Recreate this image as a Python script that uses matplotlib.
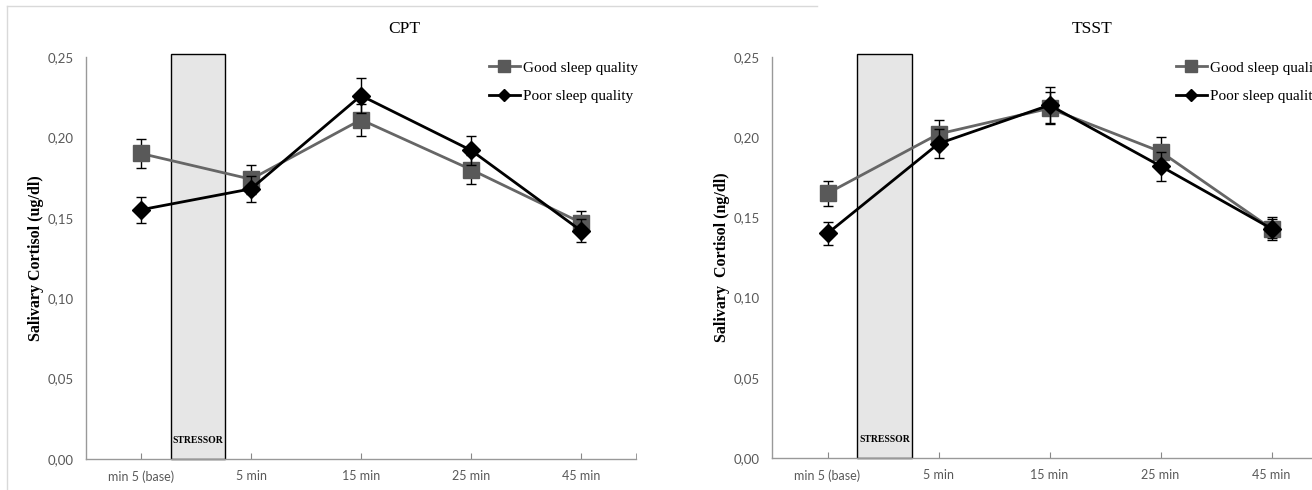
import matplotlib.pyplot as plt
from matplotlib.lines import Line2D
from matplotlib.patches import Rectangle

# time points and values
times = ['min 5 (base)', '5 min', '15 min', '25 min', '45 min']

cpt_good = [0.190, 0.174, 0.211, 0.180, 0.147]
cpt_good_err = [0.009, 0.009, 0.010, 0.009, 0.007]
cpt_poor = [0.155, 0.168, 0.226, 0.192, 0.142]
cpt_poor_err = [0.008, 0.008, 0.011, 0.009, 0.007]

tsst_good = [0.165, 0.202, 0.218, 0.191, 0.143]
tsst_good_err = [0.008, 0.009, 0.010, 0.009, 0.006]
tsst_poor = [0.140, 0.196, 0.220, 0.182, 0.143]
tsst_poor_err = [0.007, 0.009, 0.011, 0.009, 0.007]

yticks = [0.00, 0.05, 0.10, 0.15, 0.20, 0.25]

W, H = 1312, 490
fig = plt.figure(figsize=(W / 100, H / 100), dpi=100)

serif = 'Liberation Serif'
sans = ['Lato', 'DejaVu Sans']


def px(x0, y0, x1, y1):
    # pixel box -> figure fraction [left, bottom, width, height]
    return [x0 / W, 1 - y1 / H, (x1 - x0) / W, (y1 - y0) / H]


def panel(ax, good, good_err, poor, poor_err, ylabel):
    x = list(range(len(times)))
    ax.add_patch(Rectangle((0.27, 0), 0.49, 0.252, facecolor='#e6e6e6',
                           edgecolor='black', linewidth=1, zorder=1, clip_on=False))
    ax.text(0.515, 0.009, 'STRESSOR', ha='center', va='bottom', fontsize=7,
            family=serif, fontweight='bold', zorder=2)
    ax.errorbar(x, good, yerr=good_err, color='#666666', ecolor='black', elinewidth=1,
                capsize=3.5, capthick=1, linewidth=2, marker='s', markersize=11,
                markerfacecolor='#595959', markeredgecolor='#595959', zorder=3)
    ax.errorbar(x, poor, yerr=poor_err, color='black', ecolor='black', elinewidth=1,
                capsize=3.5, capthick=1, linewidth=2, marker='D', markersize=9, zorder=4)
    ax.set_xlim(-0.5, 4.5)
    ax.set_ylim(0, 0.25)
    ax.set_xticks(x)
    ax.set_xticklabels(times, family=sans, fontsize=9, color='#595959')
    ax.set_xticks([4.5], minor=True)
    ax.set_yticks(yticks)
    ax.set_yticklabels([('%.2f' % v).replace('.', ',') for v in yticks],
                       family=sans, fontsize=9.5, color='#595959')
    ax.tick_params(axis='x', which='both', direction='in', length=4, color='#888888', pad=8)
    ax.tick_params(axis='y', length=0, pad=9)
    for s in ['top', 'right']:
        ax.spines[s].set_visible(False)
    for s in ['left', 'bottom']:
        ax.spines[s].set_color('#999999')
        ax.spines[s].set_linewidth(1)
    ax.set_ylabel(ylabel, family=serif, fontweight='bold', fontsize=11.5, labelpad=2)


ax1 = fig.add_axes(px(86, 57, 636, 459))
panel(ax1, cpt_good, cpt_good_err, cpt_poor, cpt_poor_err, 'Salivary Cortisol (ug/dl)')

ax2 = fig.add_axes(px(772, 57, 1327, 458))
panel(ax2, tsst_good, tsst_good_err, tsst_poor, tsst_poor_err, 'Salivary  Cortisol (ng/dl)')

fig.text(404 / W, 1 - 29 / H, 'CPT', ha='center', va='center', family=serif, fontsize=12.5)
fig.text(1092 / W, 1 - 29 / H, 'TSST', ha='center', va='center', family=serif, fontsize=12.5)

handles = [Line2D([], [], color='#666666', lw=2, marker='s', markersize=8,
                  markerfacecolor='#595959', markeredgecolor='#595959'),
           Line2D([], [], color='black', lw=2, marker='D', markersize=6)]
labels = ['Good sleep quality', 'Poor sleep quality']
for ax, lx in [(ax1, 489), (ax2, 1176)]:
    ax.legend(handles, labels, loc='upper left', bbox_to_anchor=(lx / W, 1 - 61 / H),
              bbox_transform=fig.transFigure, frameon=False, borderpad=0,
              borderaxespad=0, handlelength=2.0, handletextpad=0.25, labelspacing=0.95,
              prop={'family': serif, 'size': 11})

# light frame around the left chart area
fig.add_artist(Line2D([7 / W, 817 / W], [1 - 6 / H, 1 - 6 / H], color='#d9d9d9', lw=1))
fig.add_artist(Line2D([7 / W, 7 / W], [1 - 6 / H, 0], color='#d9d9d9', lw=1))

fig.savefig('out.png', dpi=100)
